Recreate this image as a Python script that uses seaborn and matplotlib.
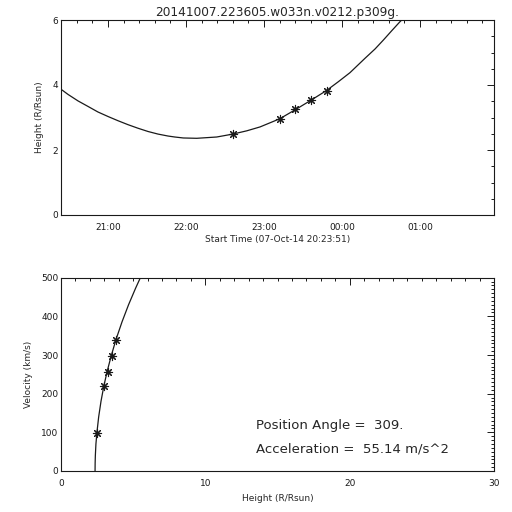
import numpy as np
import pandas as pd
import seaborn as sns
import matplotlib
matplotlib.use('Agg')
from matplotlib import pyplot as plt
import matplotlib.dates as mdates
from matplotlib.ticker import MultipleLocator

titulo = '20141007.223605.w033n.v0212.p309g.'
inicio = '2014-10-07 20:23:51'
fim = '2014-10-08 01:56:55'
angulo = '309.'
aceleracao = '55.14'

# pontos medidos (altura x tempo)
tempos = ['2014-10-07 22:36:05', '2014-10-07 23:12:05', '2014-10-07 23:24:05',
          '2014-10-07 23:36:05', '2014-10-07 23:48:05']
alturas = [2.48, 2.95, 3.26, 3.54, 3.83]
velocidades = [98, 220, 257, 298, 338]

# curva ajustada
curva_tempos = ['2014-10-07 20:23:51', '2014-10-07 20:29:15', '2014-10-07 20:36:57',
                '2014-10-07 20:44:39', '2014-10-07 20:52:15', '2014-10-07 21:00:03',
                '2014-10-07 21:07:45', '2014-10-07 21:15:21', '2014-10-07 21:23:03',
                '2014-10-07 21:30:45', '2014-10-07 21:38:27', '2014-10-07 21:46:09',
                '2014-10-07 21:51:21', '2014-10-07 21:57:57', '2014-10-07 22:08:15',
                '2014-10-07 22:23:39', '2014-10-07 22:36:05', '2014-10-07 22:46:45',
                '2014-10-07 22:56:57', '2014-10-07 23:12:05', '2014-10-07 23:24:05',
                '2014-10-07 23:36:05', '2014-10-07 23:48:05', '2014-10-07 23:57:09',
                '2014-10-08 00:06:09', '2014-10-08 00:17:39', '2014-10-08 00:25:27',
                '2014-10-08 00:31:45', '2014-10-08 00:38:15', '2014-10-08 00:44:39',
                '2014-10-08 00:48:00']
curva_alturas = [3.87, 3.71, 3.51, 3.34, 3.17, 3.03, 2.90, 2.78, 2.67, 2.57, 2.49,
                 2.43, 2.40, 2.37, 2.36, 2.40, 2.49, 2.59, 2.71, 2.96, 3.24, 3.53,
                 3.83, 4.10, 4.38, 4.82, 5.11, 5.38, 5.67, 5.95, 6.08]

# curva velocidade x altura
curva_h = [2.36, 2.365, 2.38, 2.42, 2.49, 2.61, 2.77, 2.97, 3.20, 3.48, 3.81, 4.23, 4.68, 5.17, 5.50, 5.60]
curva_v = [0, 20, 40, 70, 100, 140, 180, 220, 258, 298, 340, 386, 430, 473, 500, 508]

df_pts = pd.DataFrame({'tempo': pd.to_datetime(tempos), 'altura': alturas, 'vel': velocidades})
df_curva = pd.DataFrame({'tempo': pd.to_datetime(curva_tempos), 'altura': curva_alturas})
df_hv = pd.DataFrame({'h': curva_h, 'v': curva_v})

sns.set_theme(style='white')
plt.rcParams['font.family'] = ['DejaVu Sans']

fig = plt.figure(figsize=(5.12, 5.12), dpi=100)
ax1 = fig.add_axes([61 / 512, 1 - 215 / 512, 433 / 512, 195 / 512])
ax2 = fig.add_axes([61 / 512, 1 - 471 / 512, 433 / 512, 193.3 / 512])

estrela = (8, 2, 0)

sns.lineplot(data=df_curva, x='tempo', y='altura', ax=ax1, color='k', lw=0.9, sort=False)
sns.scatterplot(data=df_pts, x='tempo', y='altura', ax=ax1, marker=estrela, s=35,
                color='k', linewidth=0.8)
ax1.set_xlim(pd.Timestamp(inicio), pd.Timestamp(fim))
ax1.set_ylim(0, 6)
ax1.xaxis.set_major_locator(mdates.HourLocator())
ax1.xaxis.set_minor_locator(mdates.MinuteLocator(byminute=[0, 12, 24, 36, 48]))
ax1.xaxis.set_major_formatter(mdates.DateFormatter('%H:%M'))
ax1.yaxis.set_major_locator(MultipleLocator(2))
ax1.yaxis.set_minor_locator(MultipleLocator(0.5))
ax1.set_title(titulo, fontsize=8.7, pad=3)
ax1.set_xlabel('Start Time (07-Oct-14 20:23:51)', fontsize=6.5, labelpad=2)
ax1.set_ylabel('Height (R/Rsun)', fontsize=6.5, labelpad=6)

sns.lineplot(data=df_hv, x='h', y='v', ax=ax2, color='k', lw=0.9, sort=False)
sns.scatterplot(data=df_pts, x='altura', y='vel', ax=ax2, marker=estrela, s=35,
                color='k', linewidth=0.8)
ax2.set_xlim(0, 30)
ax2.set_ylim(0, 500)
ax2.xaxis.set_major_locator(MultipleLocator(10))
ax2.xaxis.set_minor_locator(MultipleLocator(1))
ax2.yaxis.set_major_locator(MultipleLocator(100))
ax2.yaxis.set_minor_locator(MultipleLocator(10))
ax2.set_xlabel('Height (R/Rsun)', fontsize=6.5, labelpad=4)
ax2.set_ylabel('Velocity (km/s)', fontsize=6.5, labelpad=6)
ax2.text(13.5, 117, 'Position Angle =  ' + angulo, fontsize=9.5, va='center')
ax2.text(13.5, 56, 'Acceleration =  ' + aceleracao + ' m/s^2', fontsize=9.5, va='center')

for ax in (ax1, ax2):
    for s in ax.spines.values():
        s.set_linewidth(0.8)
        s.set_color('k')
    ax.tick_params(which='both', direction='in', top=True, right=True, colors='k',
                   labelsize=6.5, width=0.7)
    ax.tick_params(which='major', length=5)
    ax.tick_params(which='minor', length=2.5)
    ax.tick_params(axis='x', pad=6)
    ax.tick_params(axis='y', pad=2)

fig.savefig('out.png', dpi=100, facecolor='white')
